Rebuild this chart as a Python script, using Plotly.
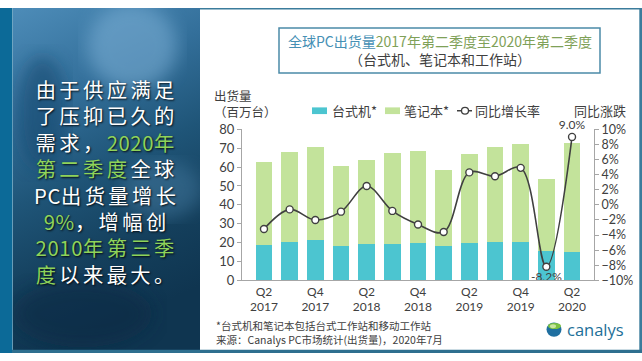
import plotly.graph_objects as go

W, H = 642, 361

# ---------------- data ----------------
quarters = ["Q2 2017", "Q3 2017", "Q4 2017", "Q1 2018", "Q2 2018", "Q3 2018", "Q4 2018",
            "Q1 2019", "Q2 2019", "Q3 2019", "Q4 2019", "Q1 2020", "Q2 2020"]
desktop = [18.5, 20.2, 21.4, 18.0, 19.2, 19.4, 20.0, 18.0, 20.0, 20.2, 20.5, 15.7, 14.8]
total = [62.7, 68.2, 70.7, 60.6, 64.0, 67.7, 68.7, 58.4, 66.9, 70.4, 72.1, 53.6, 72.9]
notebook = [round(t - d, 1) for t, d in zip(total, desktop)]
yoy = [-3.2, -0.6, -2.0, -0.9, 2.5, -0.8, -2.6, -3.6, 4.3, 3.8, 4.9, -8.2, 9.0]
labelled = {"Q1 2020": "bottom center", "Q2 2020": "top center"}
tick_quarters = quarters[::2]
tick_text = [q.replace(" ", "<br>") for q in tick_quarters]
series_names = ["台式机*", "笔记本*", "同比增长率"]

FONT = "Lato, 'Noto Sans CJK SC', sans-serif"
CJK = "'Noto Sans CJK SC', Lato, sans-serif"
GREY = "#404040"
TEAL = "#4cc5d0"
GREEN = "#c3e39b"


def px(x):
    return x / W


def py(y):
    return 1 - y / H


fig = go.Figure()
fig.add_trace(go.Bar(x=quarters, y=desktop, name=series_names[0], marker_color=TEAL,
                     marker_line_width=0))
fig.add_trace(go.Bar(x=quarters, y=notebook, name=series_names[1], marker_color=GREEN,
                     marker_line_width=0))
fig.add_trace(go.Scatter(
    x=quarters, y=yoy, name=series_names[2], yaxis="y2",
    mode="lines+markers+text",
    line=dict(color=GREY, width=1.6, shape="spline", smoothing=1.0),
    marker=dict(symbol="circle", size=7, color="white", line=dict(color=GREY, width=1.4)),
    text=[f"{v:.1f}%" if q in labelled else "" for q, v in zip(quarters, yoy)],
    textposition=[labelled.get(q, "top center") for q in quarters],
    textfont=dict(family=FONT, size=12, color=GREY),
    cliponaxis=False,
))

# ---------------- decorations ----------------
svg = (
    "data:image/svg+xml;utf8,"
    "<svg xmlns='http://www.w3.org/2000/svg' width='188' height='358' viewBox='0 0 188 358'>"
    "<defs><linearGradient id='g' x1='0' y1='0' x2='0.25' y2='1'>"
    "<stop offset='0' stop-color='%234d8cb8'/>"
    "<stop offset='0.3' stop-color='%23336f9a'/>"
    "<stop offset='0.55' stop-color='%231f5578'/>"
    "<stop offset='0.8' stop-color='%23143f5c'/>"
    "<stop offset='1' stop-color='%230f3550'/>"
    "</linearGradient>"
    "<filter id='b'><feGaussianBlur stdDeviation='9'/></filter></defs>"
    "<rect width='188' height='358' fill='url(%23g)'/>"
    "<ellipse cx='120' cy='40' rx='45' ry='45' fill='%237fb2d8' opacity='0.55' filter='url(%23b)'/>"
    "<ellipse cx='30' cy='110' rx='25' ry='60' fill='%23154a70' opacity='0.6' filter='url(%23b)'/>"
    "<ellipse cx='150' cy='190' rx='40' ry='30' fill='%234a7fa5' opacity='0.45' filter='url(%23b)'/>"
    "<ellipse cx='70' cy='320' rx='70' ry='35' fill='%230b2c44' opacity='0.6' filter='url(%23b)'/>"
    "</svg>"
)

LEG_Y = 107.5
shapes = [
    # left solid strip
    dict(type="rect", xref="paper", yref="paper", x0=px(0), x1=px(12.5), y0=py(361), y1=py(0),
         fillcolor="#0c6a98", line_width=0, layer="below"),
    # frame lines around white area
    dict(type="rect", xref="paper", yref="paper", x0=px(200), x1=px(642), y0=py(1.5), y1=py(0),
         fillcolor="#3b7c9c", line_width=0, layer="below"),
    dict(type="rect", xref="paper", yref="paper", x0=px(639.3), x1=px(642), y0=py(361), y1=py(0),
         fillcolor="#3b7c9c", line_width=0, layer="below"),
    dict(type="rect", xref="paper", yref="paper", x0=px(12), x1=px(642), y0=py(361), y1=py(357.5),
         fillcolor="#2f6f8f", line_width=0, layer="below"),
    # title box
    dict(type="rect", xref="paper", yref="paper", x0=px(279), x1=px(600), y0=py(68), y1=py(21),
         fillcolor="rgba(0,0,0,0)", line=dict(color="#4b8aa8", width=1.5)),
    # legend symbols
    dict(type="rect", xref="paper", yref="paper", x0=px(312), x1=px(327),
         y0=py(LEG_Y + 3.5), y1=py(LEG_Y - 3.5), fillcolor=TEAL, line_width=0),
    dict(type="rect", xref="paper", yref="paper", x0=px(385), x1=px(400),
         y0=py(LEG_Y + 3.5), y1=py(LEG_Y - 3.5), fillcolor=GREEN, line_width=0),
    dict(type="line", xref="paper", yref="paper", x0=px(457), x1=px(472),
         y0=py(LEG_Y), y1=py(LEG_Y), line=dict(color=GREY, width=1.5)),
    dict(type="circle", xref="paper", yref="paper", x0=px(461.5), x1=px(468.5),
         y0=py(LEG_Y + 3.5), y1=py(LEG_Y - 3.5), fillcolor="white",
         line=dict(color=GREY, width=1.3)),
    # canalys logo globe
    dict(type="circle", xref="paper", yref="paper", x0=px(546.5), x1=px(561.5), y0=py(344), y1=py(329),
         fillcolor="#1f6fa0", line_width=0),
    dict(type="circle", xref="paper", yref="paper", x0=px(548), x1=px(561), y0=py(336), y1=py(329.5),
         fillcolor="#7cc242", line_width=0),
    dict(type="circle", xref="paper", yref="paper", x0=px(550), x1=px(556), y0=py(335), y1=py(331),
         fillcolor="#c9e6a0", line_width=0),
]

images = [dict(source=svg, xref="paper", yref="paper", x=px(12.5), y=py(0),
               sizex=px(200) - px(12.5), sizey=358 / H, sizing="stretch",
               xanchor="left", yanchor="top", layer="below")]

WHITE = "#ffffff"
LG = "#8fd35a"


def w(t, ls=3.4):
    return f"<span style='color:{WHITE};letter-spacing:{ls}px'>{t}</span>"


def g(t, ls=3.4):
    return f"<span style='color:{LG};letter-spacing:{ls}px'>{t}</span>"


left_lines = [
    w("由于供应满足"),
    w("了压抑已久的"),
    w("需求，") + g("2020", 0.6) + g("年"),
    g("第二季度") + w("全球"),
    w("PC", 0.6) + w("出货量增长"),
    g("9%", 0.6) + w("，增幅创"),
    g("2010", 0.6) + g("年第三季"),
    g("度") + w("以来最大。"),
]

annotations = [dict(
    text="<br>".join(left_lines), xref="paper", yref="paper", x=px(106), y=py(181.5),
    xanchor="center", yanchor="middle", align="center", showarrow=False,
    font=dict(family=CJK, size=20.3, color=WHITE, shadow="1px 1px 2px rgba(0,0,0,0.85)"),
)]

legend_x = [330, 402, 473]
for name, lx in zip(series_names, legend_x):
    annotations.append(dict(text=name, xref="paper", yref="paper", x=px(lx), y=py(LEG_Y),
                            xanchor="left", yanchor="middle", showarrow=False,
                            font=dict(family=CJK, size=13, color=GREY)))

annotations += [
    dict(text="<span style='color:#4690b5'>全球PC出货量</span>"
              "<span style='color:#7fa158'>2017年第二季度至2020年第二季度</span><br>"
              "<span style='color:#404040'>（台式机、笔记本和工作站）</span>",
         xref="paper", yref="paper", x=px(439.5), y=py(44), xanchor="center", yanchor="middle",
         align="center", showarrow=False, font=dict(family=CJK, size=14)),
    dict(text="出货量<br>（百万台）", xref="paper", yref="paper", x=px(212), y=py(99.5),
         xanchor="left", yanchor="middle", align="left", showarrow=False,
         font=dict(family=CJK, size=12.5, color=GREY)),
    dict(text="同比涨跌", xref="paper", yref="paper", x=px(628), y=py(107.5), xanchor="right",
         yanchor="middle", showarrow=False, font=dict(family=CJK, size=13, color=GREY)),
    dict(text="*台式机和笔记本包括台式工作站和移动工作站<br>"
              "来源：Canalys PC市场统计(出货量)，2020年7月",
         xref="paper", yref="paper", x=px(214), y=py(340), xanchor="left", yanchor="middle",
         align="left", showarrow=False, font=dict(family=CJK, size=10.5, color=GREY)),
    dict(text="canalys", xref="paper", yref="paper", x=px(565), y=py(336.5), xanchor="left",
         yanchor="middle", showarrow=False,
         font=dict(family="'Open Sans', Lato, sans-serif", size=16.5, color="#1d6f98")),
]

fig.update_layout(
    width=W, height=H,
    margin=dict(l=0, r=0, t=0, b=0),
    paper_bgcolor="white", plot_bgcolor="rgba(0,0,0,0)",
    barmode="stack", bargap=0.36,
    font=dict(family=FONT, color=GREY),
    showlegend=False,
    xaxis=dict(domain=[px(242), px(594)], type="category", categoryorder="array",
               categoryarray=quarters, tickmode="array", tickvals=tick_quarters,
               ticktext=tick_text, ticks="", showline=True, linecolor="#a6a6a6", linewidth=1,
               tickfont=dict(family=FONT, size=12, color=GREY), showgrid=False, zeroline=False,
               fixedrange=True),
    yaxis=dict(domain=[py(285), py(127)], range=[0, 80], dtick=10, showline=True,
               linecolor="#a6a6a6", linewidth=1, ticks="outside", ticklen=4, tickcolor="#a6a6a6",
               tickfont=dict(family=FONT, size=13, color=GREY), showgrid=False, zeroline=False),
    yaxis2=dict(overlaying="y", side="right", anchor="x", range=[-10, 10], dtick=2,
                ticksuffix="%", showline=True, linecolor="#a6a6a6", linewidth=1, ticks="outside",
                ticklen=4, tickcolor="#a6a6a6", tickfont=dict(family=FONT, size=12.5, color=GREY),
                showgrid=False, zeroline=False),
    shapes=shapes, images=images, annotations=annotations,
)

fig.write_html(
    "out.html",
    config={"displayModeBar": False},
    post_script="document.body.style.margin='0';document.body.style.padding='0';"
                "document.body.style.overflow='hidden';",
)
